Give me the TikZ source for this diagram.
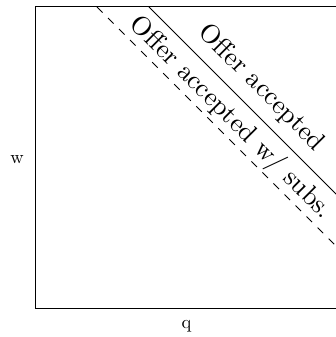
\documentclass[tikz,border=0pt]{standalone}
\begin{document}
\begin{tikzpicture}[x=1pt,y=1pt, line width=1pt,
  lbl/.style={scale=2.65},
  axis/.style={scale=1.85}]
\useasboundingbox (0,0) rectangle (335,337);
\coordinate (bl) at (35,28);
\coordinate (tr) at (345,330);
\draw (bl) rectangle (tr);
\coordinate (s1) at (149,330);
\coordinate (s2) at (345,134);
\coordinate (d1) at (97,330);
\coordinate (d2) at (345,82);
\draw (s1) -- (s2);
\draw[dash pattern=on 7.8pt off 7.8pt] (d1) -- (d2);
\coordinate (m) at (245.5,233.5);
\node[lbl, rotate=-45, anchor=south] (la) at (m) {Offer accepted};
\node[lbl, rotate=-45, anchor=north, inner sep=2.4pt] (lb) at (m) {Offer accepted w/ subs.};
\node[axis, anchor=base] (w) at (17,173) {w};
\node[axis, anchor=base] (q) at (186.5,9) {q};
\end{tikzpicture}
\end{document}
